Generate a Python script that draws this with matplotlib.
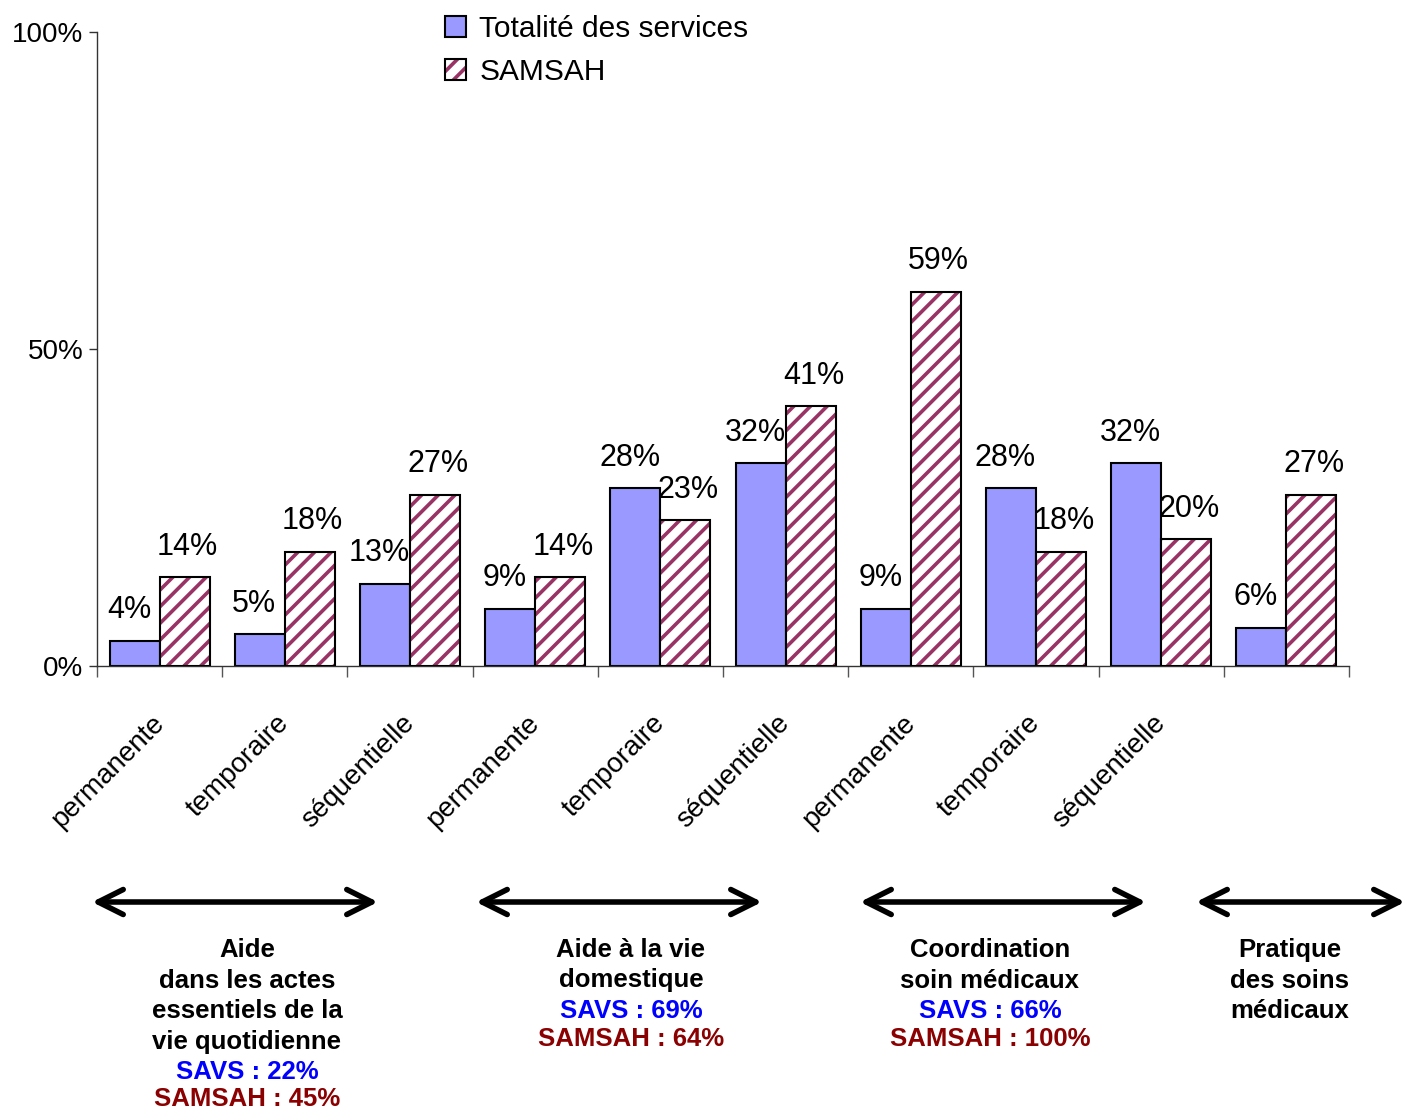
import matplotlib
matplotlib.use('Agg')
import matplotlib.pyplot as plt
import numpy as np
from matplotlib.legend_handler import HandlerTuple

plt.rcParams['font.family'] = ['Liberation Sans', 'DejaVu Sans']
plt.rcParams['hatch.linewidth'] = 2.6

categories = ['permanente', 'temporaire', 'séquentielle',
              'permanente', 'temporaire', 'séquentielle',
              'permanente', 'temporaire', 'séquentielle', '']
totalite = [4, 5, 13, 9, 28, 32, 9, 28, 32, 6]
samsah = [14, 18, 27, 14, 23, 41, 59, 18, 20, 27]

groups = [
    (['Aide', 'dans les actes', 'essentiels de la', 'vie quotidienne'], 'SAVS : 22%', 'SAMSAH : 45%'),
    (['Aide à la vie', 'domestique'], 'SAVS : 69%', 'SAMSAH : 64%'),
    (['Coordination', 'soin médicaux'], 'SAVS : 66%', 'SAMSAH : 100%'),
    (['Pratique', 'des soins', 'médicaux'], None, None),
]

BLUE = '#9999FF'
MAROON = '#993366'

fig = plt.figure(figsize=(14.05, 11.09), dpi=100)
ax = fig.add_axes([97 / 1405, 443 / 1109, 1252 / 1405, 634 / 1109])

x = np.arange(len(categories)) + 0.5
w = 0.4
b1 = ax.bar(x - w / 2, totalite, w, color=BLUE, edgecolor='black', linewidth=1.5, zorder=2)
b2 = ax.bar(x + w / 2, samsah, w, color='white', edgecolor=MAROON, hatch='//', linewidth=0, zorder=2)
b2o = ax.bar(x + w / 2, samsah, w, fill=False, edgecolor='black', linewidth=1.5, zorder=3)

for xi, v in zip(x - w / 2, totalite):
    ax.annotate(f'{v}%', (xi, v), xytext=(-4, 22), textcoords='offset points',
                ha='center', va='center', fontsize=22)
for xi, v in zip(x + w / 2, samsah):
    ax.annotate(f'{v}%', (xi, v), xytext=(2, 22), textcoords='offset points',
                ha='center', va='center', fontsize=22)

ax.set_xlim(0, len(categories))
ax.set_ylim(0, 100)
ax.set_yticks([0, 50, 100])
ax.set_yticklabels(['0%', '50%', '100%'], fontsize=20)
ax.tick_params(axis='y', length=6, width=1, pad=4, color='#333333')

ax.set_xticks(np.arange(len(categories) + 1))
ax.set_xticklabels([])
ax.tick_params(axis='x', which='major', length=8, width=1, direction='out', color='#555555')
# rotated labels sit a little left of the category centre
ax.set_xticks(x - 0.07, minor=True)
ax.set_xticklabels(categories, minor=True, rotation=45, ha='right', va='top',
                   rotation_mode='anchor', fontsize=20)
ax.tick_params(axis='x', which='minor', length=0, pad=32)

for s in ['top', 'right']:
    ax.spines[s].set_visible(False)
ax.spines['left'].set_linewidth(1)
ax.spines['bottom'].set_linewidth(1)
ax.spines['bottom'].set_color('#333333')
ax.spines['left'].set_color('#333333')

h1 = b1.patches[0]
h2 = (b2.patches[0], b2o.patches[0])
fig.legend([h1, h2], ['Totalité des services', 'SAMSAH'],
           handler_map={tuple: HandlerTuple(ndivide=1, pad=0)},
           loc='upper left', bbox_to_anchor=(430 / 1405, 1.0), frameon=False,
           fontsize=21.5, handlelength=0.7, handleheight=0.75, handletextpad=0.45,
           labelspacing=0.5, borderaxespad=0.1)

# double arrows below the axis
arrow_spans = [(92, 378), (476, 762), (860, 1146), (1196, 1405)]
for x0, x1 in arrow_spans:
    fig.add_artist(matplotlib.patches.FancyArrowPatch(
        (x0 / 1405, 1 - 902 / 1109), (x1 / 1405, 1 - 902 / 1109),
        transform=fig.transFigure, arrowstyle='<->,head_length=0.9,head_width=0.45',
        linewidth=4, color='black', mutation_scale=20, shrinkA=0, shrinkB=0,
        capstyle='round', joinstyle='round'))

centers = [247, 631, 990, 1290]
for cx, (lines, savs, sam) in zip(centers, groups):
    y = 950
    for ln in lines:
        fig.text(cx / 1405, 1 - y / 1109, ln, ha='center', va='center',
                 fontsize=18.5, fontweight='bold', color='black')
        y += 30.5
    if savs:
        fig.text(cx / 1405, 1 - y / 1109, savs, ha='center', va='center',
                 fontsize=18.5, fontweight='bold', color='#0000FF')
        y += 27.5
        fig.text(cx / 1405, 1 - y / 1109, sam, ha='center', va='center',
                 fontsize=18.5, fontweight='bold', color='#8B0000')

fig.savefig('out.png', dpi=100)
